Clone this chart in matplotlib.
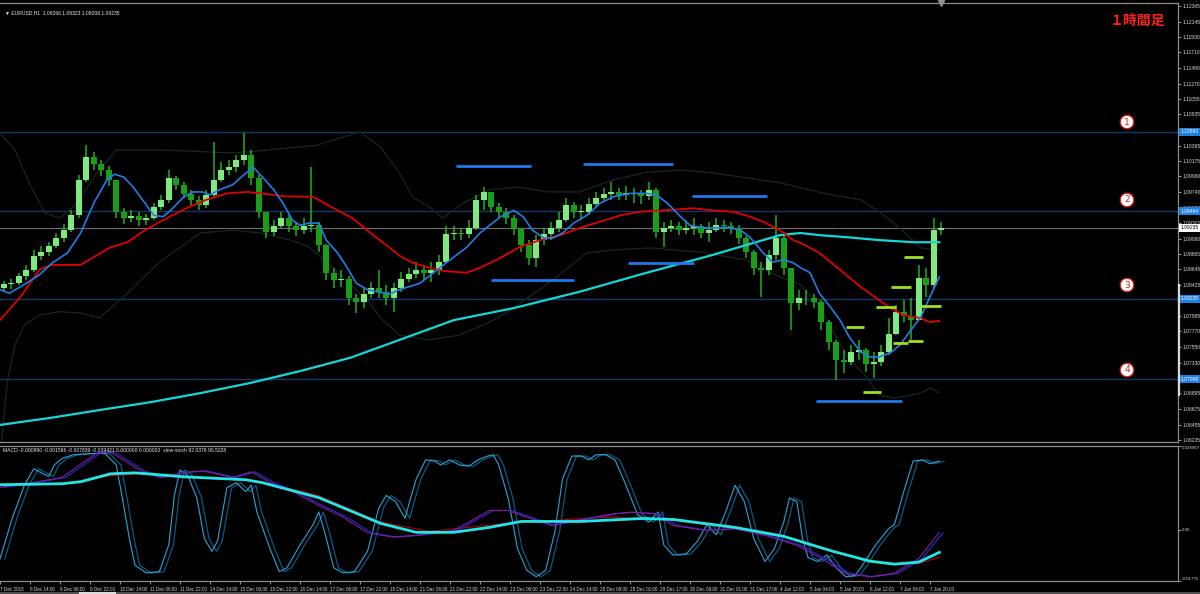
import numpy as np
import matplotlib
matplotlib.use('Agg')
import matplotlib.pyplot as plt
from matplotlib.lines import Line2D

plt.rcParams['font.family'] = ['DejaVu Sans', 'Noto Sans CJK JP']
SMALL = ['Liberation Sans', 'DejaVu Sans']
FS = 3.6       # price scale / header text
FS_T = 3.3     # time scale text

W, H = 1200, 594
BAR_PX = 1.875          # pixel width of one H1 bar
XMAX = 1178 / BAR_PX    # visible bars in the chart window

######## DATA ########
# price candles, one candle per 4 H1 bars (open = previous close)
candle_bar = np.arange(126) * 4 + 2
first_open = 1.0838
close = [1.0844, 1.0845, 1.0855, 1.0864, 1.0883, 1.0889, 1.0898, 1.0909, 1.0920, 1.0941,
         1.0991, 1.1023, 1.1013, 1.1005, 1.0991, 1.0946, 1.0937, 1.0940, 1.0934, 1.0937,
         1.0953, 1.0963, 1.0994, 1.0984, 1.0971, 1.0963, 1.0956, 1.0970, 1.0991, 1.1005,
         1.1009, 1.1019, 1.1026, 1.0994, 1.0946, 1.0917, 1.0926, 1.0937, 1.0926, 1.0920,
         1.0926, 1.0927, 1.0899, 1.0860, 1.0850, 1.0851, 1.0824, 1.0819, 1.0830, 1.0838,
         1.0833, 1.0824, 1.0838, 1.0851, 1.0858, 1.0864, 1.0860, 1.0864, 1.0875, 1.0915,
         1.0916, 1.0915, 1.0923, 1.0963, 1.0974, 1.0953, 1.0946, 1.0937, 1.0923, 1.0899,
         1.0881, 1.0906, 1.0915, 1.0923, 1.0934, 1.0956, 1.0946, 1.0946, 1.0957, 1.0965,
         1.0971, 1.0974, 1.0970, 1.0972, 1.0971, 1.0968, 1.0977, 1.0917, 1.0923, 1.0926,
         1.0920, 1.0923, 1.0926, 1.0916, 1.0920, 1.0927, 1.0926, 1.0923, 1.0909, 1.0889,
         1.0867, 1.0864, 1.0885, 1.0909, 1.0867, 1.0817, 1.0824, 1.0824, 1.0819, 1.0790,
         1.0762, 1.0737, 1.0734, 1.0748, 1.0751, 1.0731, 1.0734, 1.0748, 1.0773, 1.0805,
         1.0799, 1.0793, 1.0852, 1.0843, 1.0920, 1.09235]
high = [1.0848, 1.0851, 1.0860, 1.0871, 1.0892, 1.0898, 1.0903, 1.0916, 1.0929, 1.0948,
        1.0998, 1.1040, 1.1030, 1.1019, 1.1011, 1.0980, 1.0951, 1.0948, 1.0946, 1.0943,
        1.0958, 1.0970, 1.1005, 1.0997, 1.0988, 1.0977, 1.0968, 1.0977, 1.1045, 1.1016,
        1.1019, 1.1026, 1.1057, 1.1033, 1.0998, 1.0941, 1.0934, 1.0946, 1.0941, 1.0932,
        1.0937, 1.1009, 1.0932, 1.0900, 1.0867, 1.0864, 1.0855, 1.0830, 1.0838, 1.0847,
        1.0864, 1.0843, 1.0845, 1.0861, 1.0867, 1.0875, 1.0871, 1.0875, 1.0885, 1.0926,
        1.0926, 1.0923, 1.0934, 1.0970, 1.0981, 1.0970, 1.0958, 1.0951, 1.0941, 1.0923,
        1.0906, 1.0913, 1.0923, 1.0932, 1.0946, 1.0965, 1.0960, 1.0956, 1.0965, 1.0974,
        1.0980, 1.0988, 1.0980, 1.0982, 1.0980, 1.0977, 1.0988, 1.0980, 1.0932, 1.0934,
        1.0932, 1.0934, 1.0937, 1.0929, 1.0932, 1.0937, 1.0934, 1.0932, 1.0927, 1.0912,
        1.0892, 1.0875, 1.0892, 1.0941, 1.0917, 1.0867, 1.0836, 1.0836, 1.0830, 1.0821,
        1.0793, 1.0765, 1.0751, 1.0758, 1.0765, 1.0754, 1.0748, 1.0758, 1.0796, 1.0814,
        1.0821, 1.0824, 1.0871, 1.0867, 1.0937, 1.0932]
low = [1.0833, 1.0837, 1.0843, 1.0850, 1.0861, 1.0878, 1.0883, 1.0895, 1.0903, 1.0917,
       1.0937, 1.0988, 1.1005, 1.0997, 1.0982, 1.0937, 1.0929, 1.0932, 1.0926, 1.0927,
       1.0934, 1.0948, 1.0958, 1.0977, 1.0965, 1.0956, 1.0948, 1.0951, 1.0965, 1.0988,
       1.0998, 1.1002, 1.1012, 1.0984, 1.0937, 1.0909, 1.0912, 1.0923, 1.0917, 1.0912,
       1.0915, 1.0917, 1.0889, 1.0850, 1.0838, 1.0840, 1.0814, 1.0803, 1.0810, 1.0824,
       1.0824, 1.0814, 1.0805, 1.0833, 1.0847, 1.0852, 1.0850, 1.0847, 1.0857, 1.0875,
       1.0906, 1.0906, 1.0909, 1.0920, 1.0948, 1.0946, 1.0937, 1.0929, 1.0913, 1.0889,
       1.0871, 1.0868, 1.0899, 1.0906, 1.0917, 1.0932, 1.0937, 1.0934, 1.0941, 1.0954,
       1.0960, 1.0963, 1.0963, 1.0963, 1.0958, 1.0957, 1.0963, 1.0909, 1.0896, 1.0917,
       1.0913, 1.0915, 1.0913, 1.0909, 1.0903, 1.0917, 1.0917, 1.0915, 1.0900, 1.0881,
       1.0857, 1.0826, 1.0857, 1.0878, 1.0857, 1.0779, 1.0807, 1.0814, 1.0810, 1.0779,
       1.0751, 1.0708, 1.0718, 1.0730, 1.0737, 1.0720, 1.0711, 1.0728, 1.0744, 1.0772,
       1.0790, 1.0765, 1.0821, 1.0826, 1.0838, 1.0913]

# fast moving average (blue)
blue_bar = [0, 5, 14, 21, 28, 36, 43, 50, 57, 61, 66, 71, 76, 82, 87, 91, 98, 103, 108, 112,
            117, 124, 130, 135, 140, 146, 151, 156, 160, 165, 170, 174, 180, 185, 190, 196, 201,
            208, 213, 224, 238, 249, 256, 267, 274, 279, 284, 290, 295, 300, 306, 313, 320, 327,
            336, 345, 350, 356, 363, 368, 373, 380, 388, 395, 400, 407, 412, 418, 423, 427, 432,
            437, 443, 448, 453, 459, 464, 469, 475, 480, 485, 491, 496, 501]
blue_val = [1.0836, 1.0831, 1.0845, 1.0857, 1.0874, 1.0888, 1.0916, 1.0958, 1.0991, 1.0999,
            1.0995, 1.0981, 1.0963, 1.0941, 1.0939, 1.0948, 1.0967, 1.0974, 1.0974, 1.0970,
            1.0977, 1.0984, 1.0998, 1.1009, 1.0995, 1.0977, 1.0958, 1.0934, 1.0927, 1.0930,
            1.0930, 1.0906, 1.0888, 1.0868, 1.0845, 1.0836, 1.0833, 1.0830, 1.0836, 1.0845,
            1.0874, 1.0896, 1.0916, 1.0939, 1.0948, 1.0939, 1.0920, 1.0909, 1.0909, 1.0916,
            1.0930, 1.0941, 1.0958, 1.0967, 1.0972, 1.0972, 1.0970, 1.0958, 1.0939, 1.0927,
            1.0924, 1.0923, 1.0924, 1.0920, 1.0910, 1.0888, 1.0875, 1.0878, 1.0874, 1.0867,
            1.0860, 1.0831, 1.0811, 1.0793, 1.0769, 1.0748, 1.0741, 1.0741, 1.0747, 1.0758,
            1.0776, 1.0797, 1.0826, 1.0854]

# medium moving average (red)
red_bar = [0, 11, 21, 27, 36, 43, 50, 59, 68, 75, 84, 92, 101, 110, 121, 132, 139, 151, 167,
           178, 188, 199, 206, 213, 220, 229, 238, 249, 256, 267, 277, 288, 299, 309, 320, 331,
           341, 354, 370, 380, 391, 398, 407, 416, 423, 427, 437, 448, 459, 469, 475, 482, 491,
           496, 501]
red_val = [1.0793, 1.0826, 1.0864, 1.0871, 1.0871, 1.0871, 1.0882, 1.0896, 1.0903, 1.0916,
           1.0930, 1.0941, 1.0953, 1.0963, 1.0972, 1.0974, 1.0972, 1.0968, 1.0967, 1.0951,
           1.0937, 1.0913, 1.0899, 1.0884, 1.0874, 1.0867, 1.0862, 1.0860, 1.0867, 1.0881,
           1.0896, 1.0906, 1.0913, 1.0923, 1.0932, 1.0941, 1.0946, 1.0948, 1.0951, 1.0948,
           1.0946, 1.0941, 1.0932, 1.0920, 1.0906, 1.0902, 1.0888, 1.0864, 1.0840, 1.0821,
           1.0810, 1.0800, 1.0796, 1.0790, 1.0792]

# slow moving average (cyan)
cyan_bar = [0, 27, 53, 80, 107, 133, 160, 187, 213, 242, 274, 309, 345, 380, 398, 416, 427,
            437, 452, 469, 487, 501]
cyan_val = [1.0645, 1.0655, 1.0666, 1.0677, 1.0690, 1.0704, 1.0721, 1.0740, 1.0765, 1.0793,
            1.0810, 1.0833, 1.0860, 1.0885, 1.0899, 1.0913, 1.0916, 1.0913, 1.0910, 1.0906,
            1.0903, 1.0903]

# bollinger bands
bb_up_bar = [0, 8, 16, 24, 32, 41, 51, 62, 89, 124, 142, 169, 192, 203, 213, 220, 229, 236,
             247, 261, 277, 292, 309, 327, 345, 363, 380, 398, 416, 427, 443, 459, 469, 480,
             491, 501]
bb_up_val = [1.1057, 1.1033, 1.0984, 1.0944, 1.0937, 1.0958, 1.0998, 1.1033, 1.1033, 1.1029,
             1.1033, 1.1040, 1.1059, 1.1037, 1.1001, 1.0967, 1.0953, 1.0937, 1.0958, 1.0977,
             1.0981, 1.0974, 1.0974, 1.0991, 1.1002, 1.1005, 1.1001, 1.0994, 1.0987, 1.0980,
             1.0970, 1.0963, 1.0946, 1.0923, 1.0895, 1.0892]
bb_lo_bar = [0, 4, 8, 13, 21, 32, 43, 53, 68, 85, 107, 124, 139, 155, 165, 176, 187, 196, 203,
             213, 229, 245, 261, 270, 295, 313, 327, 347, 373, 398, 416, 427, 437, 452, 462,
             469, 478, 491, 496, 501]
bb_lo_val = [1.0600, 1.0708, 1.0758, 1.0786, 1.0800, 1.0805, 1.0803, 1.0796, 1.0831, 1.0875,
             1.0916, 1.0920, 1.0916, 1.0906, 1.0896, 1.0871, 1.0843, 1.0821, 1.0796, 1.0772,
             1.0765, 1.0772, 1.0790, 1.0803, 1.0850, 1.0888, 1.0892, 1.0895, 1.0889, 1.0878,
             1.0854, 1.0843, 1.0812, 1.0741, 1.0713, 1.0687, 1.0683, 1.0690, 1.0697, 1.0690]

# support / resistance lines
level_price = [1.10593, 1.09464, 1.08235, 1.07098]
level_label = ['1.10593', '1.09464', '1.08235', '1.07098']
level_mark = ['1', '2', '3', '4']
last_price = 1.09235

# drawn segments: (start bar, end bar, price)
blue_seg = [(243, 283, 1.1011), (311, 359, 1.1013), (369, 409, 1.0968),
            (335, 370, 1.0874), (262, 306, 1.0850), (435, 481, 1.0679)]
lime_seg = [(482, 492, 1.0882), (475, 486, 1.0840), (467, 478, 1.0811), (491, 502, 1.0813),
            (451, 461, 1.0783), (476, 484, 1.0761), (484, 492, 1.0763), (460, 470, 1.0691)]

price_ticks = [1.12365, 1.12145, 1.11930, 1.11710, 1.11490, 1.11270, 1.11055, 1.10835,
               1.10395, 1.10175, 1.09960, 1.09740, 1.09520, 1.09300, 1.09080, 1.08865,
               1.08645, 1.08425, 1.08205, 1.07985, 1.07770, 1.07550, 1.07330, 1.06895,
               1.06675, 1.06455, 1.06235]

time_labels = ['7 Dec 2015', '8 Dec 14:00', '9 Dec 06:00', '9 Dec 22:00', '10 Dec 14:00',
               '11 Dec 06:00', '11 Dec 22:00', '14 Dec 14:00', '15 Dec 06:00', '15 Dec 22:00',
               '16 Dec 14:00', '17 Dec 06:00', '17 Dec 22:00', '18 Dec 14:00', '21 Dec 06:00',
               '21 Dec 22:00', '22 Dec 14:00', '23 Dec 06:00', '23 Dec 22:00', '24 Dec 14:00',
               '28 Dec 09:00', '29 Dec 01:00', '29 Dec 17:00', '30 Dec 09:00', '31 Dec 01:00',
               '31 Dec 17:00', '4 Jan 12:00', '5 Jan 04:00', '5 Jan 20:00', '6 Jan 12:00',
               '7 Jan 04:00', '7 Jan 20:00']
time_bars = [16 * i for i in range(len(time_labels))]

# MACD pane
macd_ticks = [0.028967, 0.0, -0.01775]
macd_tick_labels = ['0.028967', '0.00', '-0.01775']
macd_bar = [0, 33, 43, 59, 72, 98, 131, 140, 170, 203, 222, 242, 261, 278, 310, 343, 359,
            392, 418, 444, 464, 477, 490, 501]
macd_val = [0.01557, 0.01591, 0.01660, 0.01935, 0.01969, 0.01832, 0.01729, 0.01626, 0.01111,
            0.00218, -0.00091, -0.00091, 0.00080, 0.00286, 0.00286, 0.00389, 0.00355, 0.00080,
            -0.00229, -0.00744, -0.01088, -0.01191, -0.01122, -0.00784]
sig_bar = [0, 33, 59, 75, 98, 137, 170, 203, 229, 277, 326, 359, 392, 425, 451, 470, 490, 501]
sig_val = [0.01523, 0.01581, 0.01866, 0.01925, 0.01808, 0.01695, 0.01179, 0.00262, -0.00057,
           0.00262, 0.00434, 0.00321, 0.00036, -0.00332, -0.00882, -0.01167, -0.01181, -0.00942]
fast_bar = [0, 13, 33, 52, 59, 75, 85, 98, 108, 124, 134, 144, 157, 170, 183, 196, 209, 222,
            242, 261, 271, 281, 294, 307, 327, 336, 349, 359, 376, 392, 408, 425, 438, 451,
            464, 477, 490, 501]
fast_val = [0.01465, 0.01581, 0.01808, 0.02667, 0.02691, 0.02038, 0.01808, 0.01980, 0.02038,
            0.01808, 0.02004, 0.01636, 0.01293, 0.00836, 0.00434, -0.00102, -0.00253, -0.00195,
            -0.00023, 0.00664, 0.00664, 0.00434, 0.00149, 0.00321, 0.00551, 0.00606, 0.00551,
            0.00149, -0.00023, 0.00036, -0.00195, -0.00538, -0.00995, -0.01510, -0.01627,
            -0.01510, -0.00995, -0.00089]

# slow stochastic (0-100)
stoch_bar = [0, 6.5, 13, 18, 23, 26, 29, 33, 39, 49, 56, 62, 65, 69, 72, 78, 85, 90, 93, 96,
             100, 105, 109, 113, 116, 121, 126, 131, 134, 137, 144, 149, 153, 160, 167, 170,
             173, 178, 183, 189, 196, 202, 206, 211, 216, 219, 222, 227, 232, 235, 240, 245,
             250, 255, 260, 263, 266, 271, 276, 281, 286, 291, 296, 300, 305, 310, 314, 318,
             323, 328, 333, 340, 346, 351, 354, 359, 366, 372, 377, 382, 387, 392, 397, 402,
             408, 413, 418, 421, 425, 428, 431, 436, 441, 446, 451, 456, 460, 467, 474, 477,
             482, 487, 492, 496, 501]
stoch_val = [15, 47, 73, 86, 82, 80, 89, 94, 97, 98, 98, 89, 65, 31, 10, 4, 5, 26, 65, 85,
             81, 63, 31, 21, 29, 71, 75, 68, 73, 52, 23, 5, 8, 26, 42, 52,
             37, 8, 4, 5, 21, 55, 65, 60, 47, 63, 78, 93, 92, 89, 93, 89,
             88, 93, 96, 97, 89, 63, 23, 6, 1, 6, 37, 78, 96, 96, 93, 97,
             97, 93, 76, 50, 44, 52, 26, 18, 19, 29, 42, 34, 52, 73, 60, 31,
             13, 23, 44, 63, 60, 31, 16, 13, 18, 8, 1, 2, 10, 26, 39, 42,
             68, 92, 93, 90, 92]

######## FIGURE ########
fig = plt.figure(figsize=(W / 100, H / 100), dpi=100, facecolor='black')


def px_box(x0, y0, x1, y1):
    return [x0 / W, 1 - y1 / H, (x1 - x0) / W, (y1 - y0) / H]


ax1 = fig.add_axes(px_box(0, 3, 1178, 442))
ax2 = fig.add_axes(px_box(0, 446, 1178, 581))

for ax in (ax1, ax2):
    ax.set_facecolor('black')
    ax.set_xlim(0, XMAX)
    for name, sp in ax.spines.items():
        sp.set_color('#8c8c8c')
        sp.set_linewidth(0.9)
    ax.spines['left'].set_visible(False)

ax1.set_ylim(1.06209, 1.12408)
ax2.set_ylim(-0.01775, 0.02862)

# ---- main pane ----
for p in level_price:
    ax1.axhline(p, color='#12386e', lw=1.0, zorder=1)
ax1.axhline(last_price, color='#6e6e6e', lw=0.8, zorder=1)

ax1.plot(bb_up_bar, bb_up_val, color='#16281e', lw=0.9, zorder=2)
ax1.plot(bb_lo_bar, bb_lo_val, color='#16281e', lw=0.9, zorder=2)

o = np.array([first_open] + close[:-1])
c = np.array(close)
hi = np.maximum(np.array(high), np.maximum(o, c))
lo = np.minimum(np.array(low), np.minimum(o, c))
up = c >= o
body_col = np.where(up, '#7fe87f', '#1a9e1a')
ax1.vlines(candle_bar, lo, hi, colors='#22b022', lw=1.1, zorder=3)
ax1.bar(candle_bar, np.maximum(np.abs(c - o), 0.00005), bottom=np.minimum(o, c),
        width=3.3, color=body_col, linewidth=0, zorder=4)

ax1.plot(cyan_bar, cyan_val, color='#12d8d8', lw=1.6, zorder=5)
ax1.plot(red_bar, red_val, color='#e00000', lw=1.3, zorder=5)
ax1.plot(blue_bar, blue_val, color='#1f7fe6', lw=1.2, zorder=6)

for b0, b1, p in blue_seg:
    ax1.plot([b0, b1], [p, p], color='#1f78e8', lw=2.0, zorder=7, solid_capstyle='butt')
for b0, b1, p in lime_seg:
    ax1.plot([b0, b1], [p, p], color='#9ee024', lw=2.0, zorder=7, solid_capstyle='butt')

ax1.set_xticks([])
ax1.yaxis.tick_right()
ax1.set_yticks(price_ticks)
ax1.set_yticklabels(['%.5f' % v for v in price_ticks], family=SMALL)
ax1.tick_params(axis='y', direction='out', length=2, width=0.6, color='#b0b0b0',
                labelsize=FS, labelcolor='#d8d8d8', pad=1)

ytr = ax1.get_yaxis_transform()
for p, lab in zip(level_price, level_label):
    ax1.text(1.0025, p, lab, transform=ytr, fontsize=FS, color='white', va='center',
             ha='left', clip_on=False, zorder=10, family=SMALL,
             bbox=dict(boxstyle='square,pad=0.3', fc='#1f7fe6', ec='none'))
ax1.text(1.0025, last_price, '%.5f' % last_price, transform=ytr, fontsize=FS, color='black',
         va='center', ha='left', clip_on=False, zorder=10, family=SMALL,
         bbox=dict(boxstyle='square,pad=0.3', fc='white', ec='none'))

# chart shift marker
ax1.plot([502], [1.12408], marker='v', color='#909090', ms=4, clip_on=False, zorder=10)

# ---- indicator pane ----
ax3 = ax2.twinx()
ax3.set_ylim(-2.36, 103.9)
ax3.set_xlim(0, XMAX)
ax3.axis('off')
ax3.plot(np.array(stoch_bar) + 2.5, stoch_val, color='#0b5a80', lw=0.9)
ax3.plot(stoch_bar, stoch_val, color='#26a6d8', lw=0.8)

ax2.plot(sig_bar, sig_val, color='#b00010', lw=0.8, zorder=3)
ax2.plot(np.array(fast_bar) + 2, fast_val, color='#2a2ad0', lw=0.8, zorder=3)
ax2.plot(fast_bar, fast_val, color='#8a1a9a', lw=0.8, zorder=3)
ax2.plot(macd_bar, macd_val, color='#20e6e6', lw=2.0, zorder=4)
ax3.set_zorder(0)
ax2.set_zorder(1)
ax2.patch.set_visible(False)

ax2.yaxis.tick_right()
ax2.set_yticks(macd_ticks)
ax2.set_yticklabels(macd_tick_labels, family=SMALL)
ax2.tick_params(axis='y', direction='out', length=2, width=0.6, color='#b0b0b0',
                labelsize=3.2, labelcolor='#d8d8d8', pad=1)
ytl = ax2.get_yticklabels()
ytl[0].set_va('top')
ytl[-1].set_va('bottom')
ax2.set_xticks(time_bars)
ax2.set_xticklabels(time_labels, family=SMALL)
ax2.tick_params(axis='x', direction='out', length=2.5, width=0.6, color='#b0b0b0',
                labelsize=FS_T, labelcolor='#d8d8d8', pad=1.5)
for lbl in ax2.get_xticklabels():
    lbl.set_ha('left')

# ---- texts ----
fig.text(5 / W, 1 - 13 / H, '\u25bc EURUSD,H1  1.09266 1.09323 1.09208 1.09235',
         fontsize=FS, color='#e8e8e8', va='center', family=SMALL)
fig.text(3 / W, 1 - 451 / H,
         'MACD -0.000890 -0.001596 -0.007839 -0.009421 0.000000 0.000000  slow-stoch 92.0379 90.5228',
         fontsize=FS, color='#e8e8e8', va='center', family=SMALL)
fig.text(1138 / W, 1 - 21 / H, '\uff11\u6642\u9593\u8db3', fontsize=10, fontweight='bold',
         color='#ff1e1e', ha='center', va='center', family=['Noto Sans CJK JP'])

for lab, yy in zip(level_mark, [122, 200, 285, 370]):
    fig.text(1127 / W, 1 - yy / H, lab, fontsize=6.5, color='#e01818', ha='center',
             va='center', family=['DejaVu Sans'],
             bbox=dict(boxstyle='circle,pad=0.25', fc='white', ec='#e01818', lw=0.9))

# scroll marker on the price scale and the tab strip at the bottom
fig.add_artist(Line2D([1178.5 / W] * 2, [1 - 285 / H, 1 - 395 / H], color='#d8d8d8', lw=1.6))
fig.add_artist(Line2D([0, 1], [1 - 593 / H] * 2, color='#505050', lw=1.5))
fig.add_artist(Line2D([80 / W, 115 / W], [1 - 593 / H] * 2, color='#dcdcdc', lw=1.5))

fig.savefig('out.png', dpi=100, facecolor='black')
